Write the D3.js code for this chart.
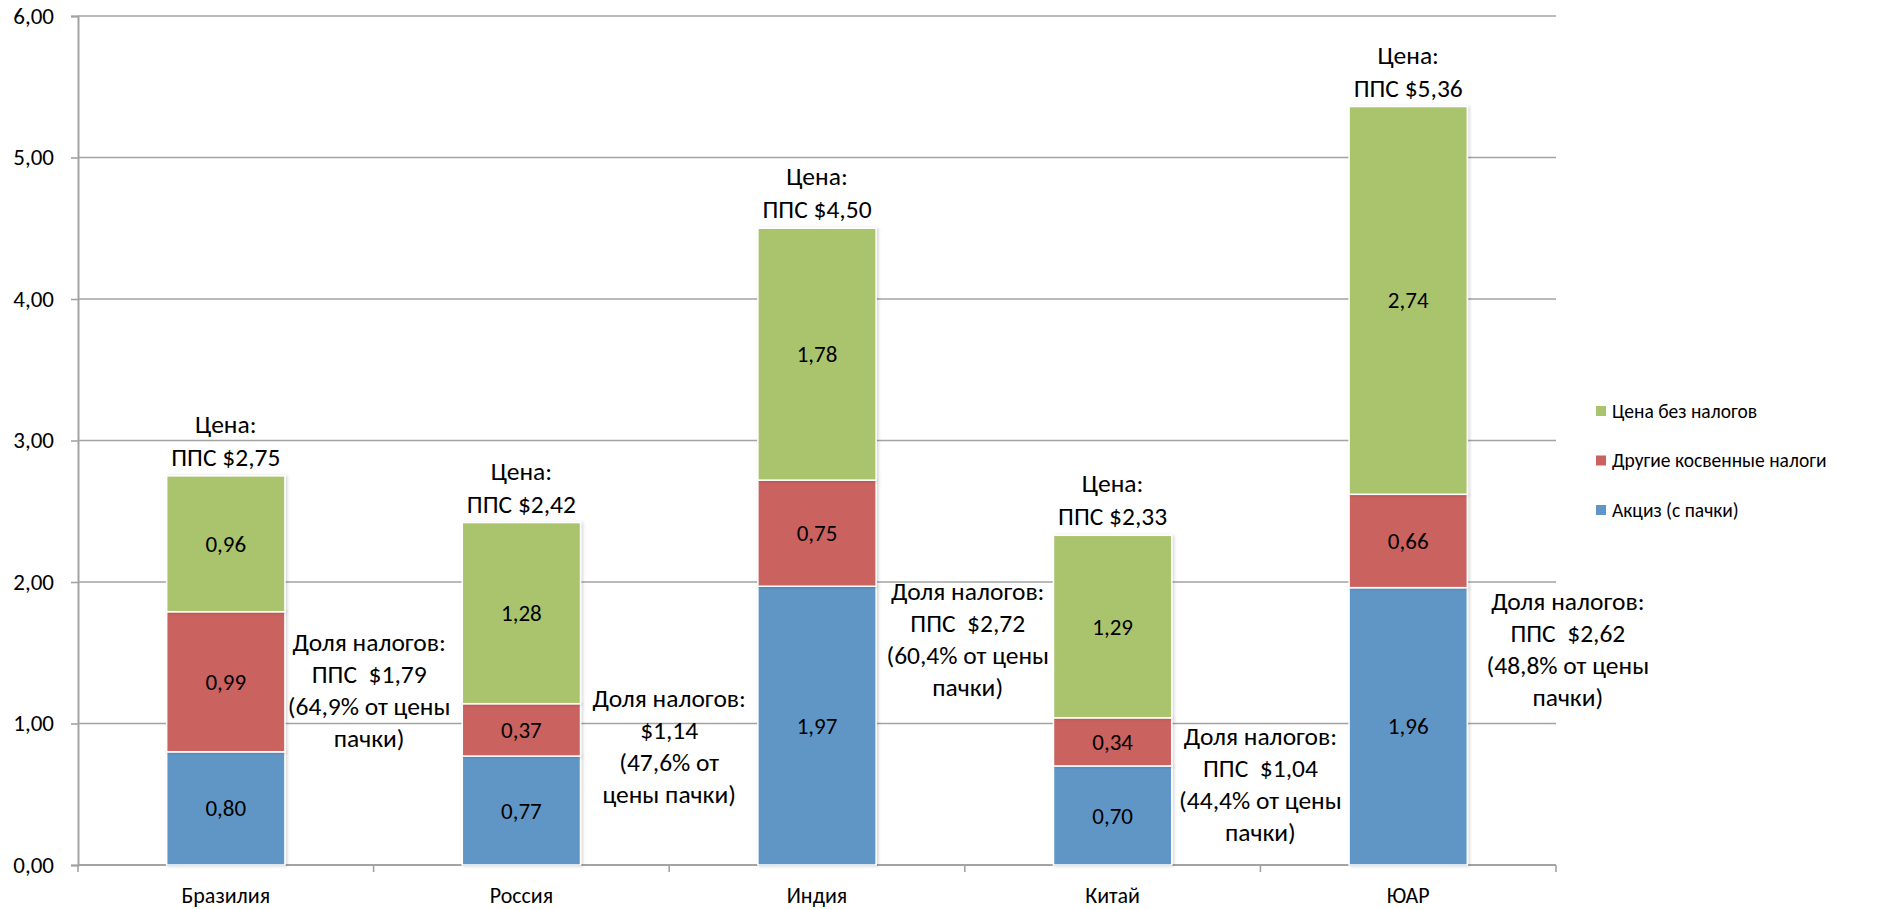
<!DOCTYPE html>
<html>
<head>
<meta charset="utf-8">
<script src="https://cdn.jsdelivr.net/npm/d3@7"></script>
<style>
  body { margin: 0; background: #fff; }
  svg text { font-family: Carlito, Lato, "Open Sans", sans-serif; fill: #000; }
</style>
</head>
<body>
<div id="wrapper"></div>
<script>
// data
const categories = ["Бразилия", "Россия", "Индия", "Китай", "ЮАР"]
const excise = [0.80, 0.77, 1.97, 0.70, 1.96]
const otherTaxes = [0.99, 0.37, 0.75, 0.34, 0.66]
const netPrice = [0.96, 1.28, 1.78, 1.29, 2.74]
const seriesNames = ["Акциз (с пачки)", "Другие косвенные налоги", "Цена без налогов"]
const priceLabels = ["ППС $2,75", "ППС $2,42", "ППС $4,50", "ППС $2,33", "ППС $5,36"]
const taxNotes = [
  ["Доля налогов:", "ППС  $1,79", "(64,9% от цены", "пачки)"],
  ["Доля налогов:", "$1,14", "(47,6% от", "цены пачки)"],
  ["Доля налогов:", "ППС  $2,72", "(60,4% от цены", "пачки)"],
  ["Доля налогов:", "ППС  $1,04", "(44,4% от цены", "пачки)"],
  ["Доля налогов:", "ППС  $2,62", "(48,8% от цены", "пачки)"],
]
const yTicks = [0, 1, 2, 3, 4, 5, 6]

// where the text boxes sit (value of first baseline, shift in steps from the category centre)
const noteY = [1.512, 1.117, 1.873, 0.85, 1.802]
const noteShift = [0.485, 0.5, 0.51, 0.5, 0.54]

const colors = ["#6096c6", "#ca625e", "#a9c46c"]

const dimensions = {
  width: 1895,
  height: 910,
  left: 78,
  right: 1556,
  top: 16,
  bottom: 865,
}

const rows = categories.map((c, i) => ({
  cat: c,
  excise: excise[i],
  other: otherTaxes[i],
  net: netPrice[i],
}))

const stack = d3.stack().keys(["excise", "other", "net"])
const stacked = stack(rows)

const svg = d3.select("#wrapper")
  .append("svg")
  .attr("width", dimensions.width)
  .attr("height", dimensions.height)

const defs = svg.append("defs")
defs.append("filter")
  .attr("id", "shadow")
  .attr("x", "-10%").attr("y", "-10%").attr("width", "130%").attr("height", "120%")
  .append("feDropShadow")
  .attr("dx", 1.5).attr("dy", 0.5).attr("stdDeviation", 1.5)
  .attr("flood-color", "#000").attr("flood-opacity", 0.18)

const xScale = d3.scaleBand()
  .domain(categories)
  .range([dimensions.left, dimensions.right])
  .paddingInner(0.6)
  .paddingOuter(0.3)

const step = xScale.step()
const center = c => xScale(c) + xScale.bandwidth() / 2

const yScale = d3.scaleLinear()
  .domain([0, 6])
  .range([dimensions.bottom, dimensions.top])

// gridlines
svg.append("g")
  .selectAll("line")
  .data(yTicks.filter(d => d > 0))
  .join("line")
  .attr("x1", dimensions.left)
  .attr("x2", dimensions.right)
  .attr("y1", d => yScale(d))
  .attr("y2", d => yScale(d))
  .attr("stroke", "#a3a3a3")
  .attr("stroke-width", 1.6)

// y axis
const yAxis = d3.axisLeft(yScale)
  .tickValues(yTicks)
  .tickSize(7)
  .tickPadding(17)
  .tickFormat(d => d3.format(".2f")(d).replace(".", ","))

const yAxisG = svg.append("g")
  .attr("transform", `translate(${dimensions.left},0)`)
  .call(yAxis)
yAxisG.select(".domain").attr("stroke", "#a3a3a3").attr("stroke-width", 2)
yAxisG.selectAll(".tick line").attr("stroke", "#a3a3a3").attr("stroke-width", 1.6)
yAxisG.selectAll(".tick text")
  .style("font-size", "23px")
  .attr("fill", "#000")

// x axis baseline with category separators
svg.append("line")
  .attr("x1", dimensions.left)
  .attr("x2", dimensions.right)
  .attr("y1", dimensions.bottom)
  .attr("y2", dimensions.bottom)
  .attr("stroke", "#a3a3a3")
  .attr("stroke-width", 2)

svg.append("g")
  .selectAll("line")
  .data(d3.range(categories.length + 1))
  .join("line")
  .attr("x1", i => dimensions.left + i * step)
  .attr("x2", i => dimensions.left + i * step)
  .attr("y1", dimensions.bottom)
  .attr("y2", dimensions.bottom + 7)
  .attr("stroke", "#a3a3a3")
  .attr("stroke-width", 1.6)

svg.append("g")
  .selectAll("text")
  .data(categories)
  .join("text")
  .attr("x", d => center(d))
  .attr("y", 903)
  .attr("text-anchor", "middle")
  .style("font-size", "22px")
  .text(d => d)

// bars
const layers = svg.append("g")
  .selectAll("g")
  .data(stacked)
  .join("g")
  .attr("fill", (d, i) => colors[i])

layers.selectAll("rect")
  .data(d => d)
  .join("rect")
  .attr("x", d => xScale(d.data.cat))
  .attr("width", xScale.bandwidth())
  .attr("y", d => yScale(d[1]))
  .attr("height", d => yScale(d[0]) - yScale(d[1]))
  .attr("stroke", "#fff")
  .attr("stroke-width", 1.5)
  .attr("filter", "url(#shadow)")

// values inside segments
layers.selectAll("text")
  .data(d => d)
  .join("text")
  .attr("x", d => center(d.data.cat))
  .attr("y", d => yScale((d[0] + d[1]) / 2))
  .attr("dy", "0.35em")
  .attr("text-anchor", "middle")
  .style("font-size", "23px")
  .text(d => d3.format(".2f")(d[1] - d[0]).replace(".", ","))

// price above each bar
const totals = rows.map(r => r.excise + r.other + r.net)
const priceG = svg.append("g")
  .selectAll("text")
  .data(categories)
  .join("text")
  .attr("x", d => center(d))
  .attr("y", (d, i) => yScale(totals[i]) - 10)
  .attr("text-anchor", "middle")
  .style("font-size", "25.5px")

priceG.append("tspan")
  .attr("x", d => center(d))
  .attr("dy", -33)
  .text("Цена:")
priceG.append("tspan")
  .attr("x", d => center(d))
  .attr("dy", 33)
  .text((d, i) => priceLabels[i])

// tax share notes
const notes = svg.append("g")
  .selectAll("text")
  .data(categories)
  .join("text")
  .attr("text-anchor", "middle")
  .attr("xml:space", "preserve")
  .style("white-space", "pre")
  .style("font-size", "25.5px")
  .attr("y", (d, i) => yScale(noteY[i]))

notes.selectAll("tspan")
  .data((d, i) => taxNotes[i].map(t => ({ t, x: center(d) + noteShift[i] * step })))
  .join("tspan")
  .attr("x", d => d.x)
  .attr("dy", (d, j) => j === 0 ? 0 : 32)
  .text(d => d.t)

// legend
const legend = svg.append("g")
  .attr("transform", "translate(1596,0)")
  .selectAll("g")
  .data([2, 1, 0])
  .join("g")
  .attr("transform", (d, i) => `translate(0,${411 + i * 49.5})`)

legend.append("rect")
  .attr("x", 0)
  .attr("y", -5)
  .attr("width", 10)
  .attr("height", 10)
  .attr("fill", d => colors[d])

legend.append("text")
  .attr("x", 16)
  .attr("dy", "0.35em")
  .style("font-size", "19.5px")
  .text(d => seriesNames[d])
</script>
</body>
</html>
